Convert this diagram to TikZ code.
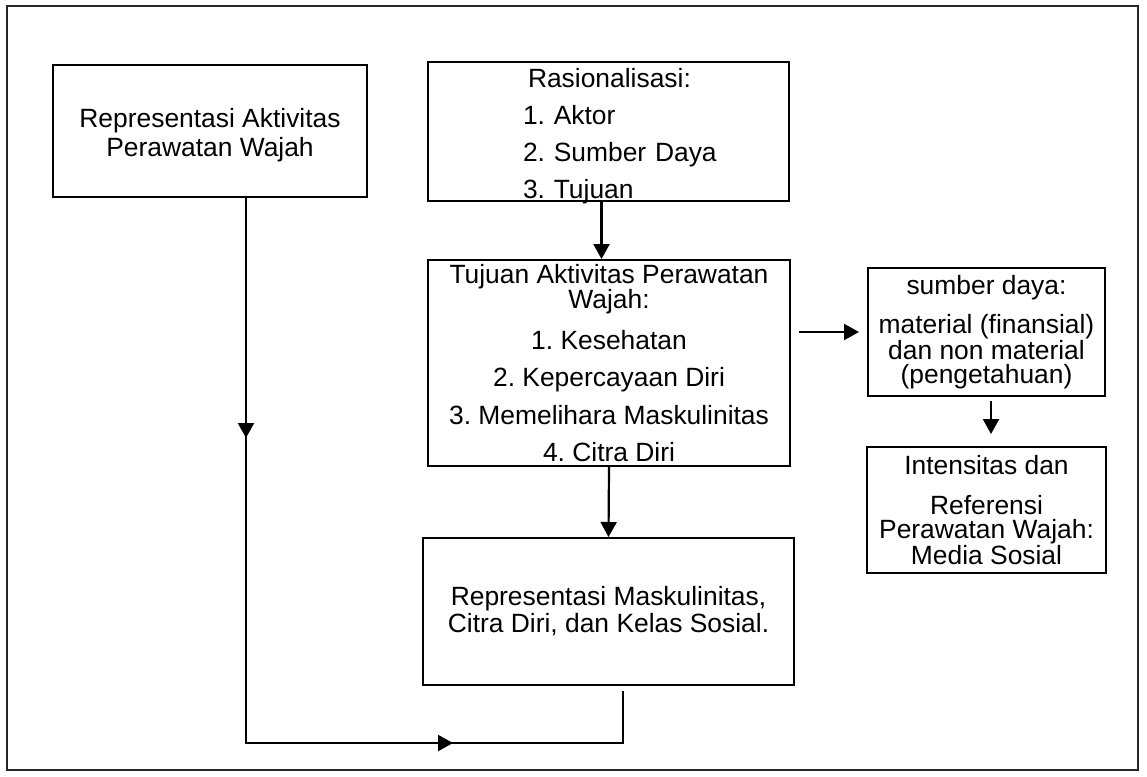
\documentclass[tikz,border=0pt]{standalone}
\usepackage{fontspec}
\setmainfont{Liberation Sans}
\usetikzlibrary{arrows.meta}
\frenchspacing

\begin{document}
\begin{tikzpicture}[
    x=1pt, y=-1pt,
    font=\fontsize{26.4}{24}\selectfont,
    % Gaya untuk konsistensi
    container/.style={draw=black, line width=2pt, fill=white, inner sep=0pt, align=center},
    link/.style={line width=2.2pt},
    arrow_line/.style={line width=2.2pt, -{Triangle[length=15pt, width=16pt]}},
    outer_frame/.style={draw=black!85, line width=1.5pt}
]
    \useasboundingbox (0,0) rectangle (1147,776);
    \draw[outer_frame] (7,6) rectangle (1138,770);

    % ==========================================
    % KOLOM KIRI
    % ==========================================
    \node[container, minimum width=314pt, minimum height=132pt,
          font=\fontsize{26.4}{29}\selectfont] (repAkt) at (210,131)
        {\rule{0pt}{27pt}Representasi Aktivitas\\Perawatan Wajah};

    % ==========================================
    % KOLOM TENGAH
    % ==========================================
    \node[container, minimum width=361pt, minimum height=139pt,
          text width=361pt, align=left] (rasio) at (608.5,131.5)
        {\rule{0pt}{22pt}\hspace*{100pt}Rasionalisasi:\\[13pt]
         \hspace*{95pt}1. Aktor\\[13pt]
         \hspace*{95pt}2. Sumber Daya\\[13pt]
         \hspace*{95pt}\smash{3. Tujuan}};

    \node[container, minimum width=362pt, minimum height=206pt] (tujuan) at (609,363)
        {Tujuan Aktivitas Perawatan\\ Wajah:\\[15pt]
         1. Kesehatan\\[13pt]
         2. Kepercayaan Diri\\[13pt]
         3. Memelihara Maskulinitas\\[13pt]
         4. Citra Diri};

    \node[container, minimum width=371pt, minimum height=147pt,
          font=\fontsize{26.4}{27}\selectfont] (repMask) at (608.5,611.5)
        {Representasi Maskulinitas,\\Citra Diri, dan Kelas Sosial.};

    % ==========================================
    % KOLOM KANAN
    % ==========================================
    \node[container, minimum width=237pt, minimum height=128pt] (sumber) at (986.5,332)
        {sumber daya:\\[14pt] material (finansial)\\ dan non material\\ (pengetahuan)};

    \node[container, minimum width=239pt, minimum height=126pt] (intens) at (986.5,510)
        {Intensitas dan\\[16pt] Referensi\\ Perawatan Wajah:\\ Media Sosial};

    % ==========================================
    % PANAH
    % ==========================================
    \coordinate (kiri) at (246,743);
    \coordinate (kanan) at (623,743);

    \draw[arrow_line] ([xshift=-7pt]rasio.south) -- ([xshift=-7pt]rasio.south |- tujuan.north);
    \draw[arrow_line] (tujuan.south) -- (repMask.north);
    \draw[arrow_line] ([xshift=8pt]tujuan.east |- sumber.west) -- ([xshift=-8pt]sumber.west);
    \draw[arrow_line] ([xshift=4.5pt,yshift=-4pt]sumber.south) -- ([xshift=4.5pt,yshift=12pt]intens.north);

    % jalur bawah kembali ke representasi
    \draw[link] (repAkt.south -| kiri) -- (kiri) -- (kanan) -- ([yshift=-5pt]repMask.south -| kanan);
    \draw[arrow_line] (repAkt.south -| kiri) -- ++(0,240);
    \draw[arrow_line] (kiri) -- ++(207,0);

\end{tikzpicture}
\end{document}
